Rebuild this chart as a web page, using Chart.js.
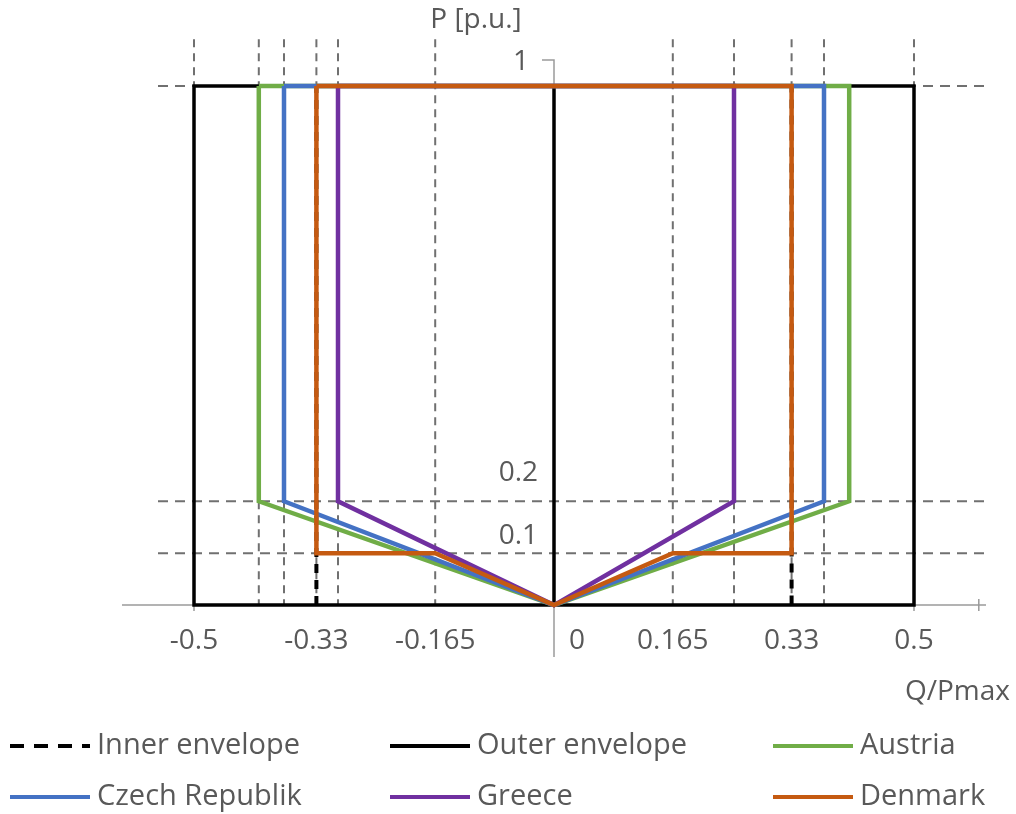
<!DOCTYPE html>
<html>
<head>
<meta charset="utf-8">
<script src="https://cdn.jsdelivr.net/npm/chart.js@4.4.1/dist/chart.umd.min.js"></script>
<style>
html, body { margin: 0; padding: 0; background: #fff; }
</style>
</head>
<body>
<canvas id="pqChart" width="1016" height="814"></canvas>
<script>
// tick labels
const xTicks = [-0.5, -0.33, -0.165, 0, 0.165, 0.33, 0.5];
const xTickLabels = ['-0.5', '-0.33', '-0.165', '0', '0.165', '0.33', '0.5'];
const yTicks = [1, 0.2, 0.1];
const yTickLabels = ['1', '0.2', '0.1'];

// dashed helper lines
const vGrid = [-0.5, -0.41, -0.375, -0.33, -0.3, -0.165, 0.165, 0.25, 0.33, 0.375, 0.5];
const hGrid = [1, 0.2, 0.1];

// curves: Q/Pmax (x) and P (y)
const innerQ = [-0.33, -0.33, 0.33, 0.33];
const innerP = [0, 1, 1, 0];
const outerQ = [0, 0, -0.5, -0.5, 0.5, 0.5, 0];
const outerP = [1, 0, 0, 1, 1, 0, 0];
const austriaQ = [-0.41, -0.41, 0, 0.41, 0.41, -0.41];
const austriaP = [1, 0.2, 0, 0.2, 1, 1];
const czechQ = [-0.375, -0.375, 0, 0.375, 0.375, -0.375];
const czechP = [1, 0.2, 0, 0.2, 1, 1];
const greeceQ = [-0.3, -0.3, 0, 0.25, 0.25, -0.3];
const greeceP = [1, 0.2, 0, 0.2, 1, 1];
const denmarkQ = [-0.33, -0.33, -0.165, 0, 0.165, 0.33, 0.33, -0.33];
const denmarkP = [1, 0.1, 0.1, 0, 0.1, 0.1, 1, 1];

const textColor = '#595959';
const tickFont = "28px 'Open Sans'";
const legendFont = "29px 'Open Sans'";

function pts(qs, ps) {
    return qs.map((q, i) => ({ x: q, y: ps[i] }));
}

// grid lines as one dataset each, broken with null
const vGridPts = [];
vGrid.forEach(q => { vGridPts.push({ x: q, y: 1.09 }, { x: q, y: 0 }, { x: q, y: null }); });
const hGridPts = [];
hGrid.forEach(p => { hGridPts.push({ x: -0.55, y: p }, { x: 0.6, y: p }, { x: null, y: null }); });

function series(label, qs, ps, color, width, order, dash) {
    return {
        label: label,
        data: pts(qs, ps),
        borderColor: color,
        backgroundColor: color,
        borderWidth: width,
        borderDash: dash || [],
        showLine: true,
        pointRadius: 0,
        tension: 0,
        order: order
    };
}

const axesPlugin = {
    id: 'axes',
    beforeDatasetsDraw(chart) {
        const { ctx, scales: { x, y } } = chart;
        const x0 = x.getPixelForValue(0);
        const y0 = y.getPixelForValue(0);
        ctx.save();
        ctx.strokeStyle = '#9a9a9a';
        ctx.lineWidth = 1.5;
        ctx.beginPath();
        ctx.moveTo(x.getPixelForValue(-0.6), y0);
        ctx.lineTo(x.getPixelForValue(0.6), y0);
        ctx.moveTo(x0, y.getPixelForValue(-0.1));
        ctx.lineTo(x0, y.getPixelForValue(1.05));
        ctx.lineTo(x0 - 12, y.getPixelForValue(1.05));
        [-0.5, 0.5].forEach(v => {
            const px = x.getPixelForValue(v);
            ctx.moveTo(px, y0);
            ctx.lineTo(px, y0 + 6);
        });
        const xe = x.getPixelForValue(0.59);
        ctx.moveTo(xe, y0 - 6);
        ctx.lineTo(xe, y0 + 6);
        ctx.stroke();
        ctx.restore();
    }
};

const labelsPlugin = {
    id: 'labels',
    afterDraw(chart) {
        const { ctx, scales: { x, y } } = chart;
        const x0 = x.getPixelForValue(0);
        const y0 = y.getPixelForValue(0);
        ctx.save();
        ctx.fillStyle = textColor;
        ctx.font = tickFont;
        ctx.textBaseline = 'middle';

        // x tick labels
        xTicks.forEach((v, i) => {
            if (v === 0) {
                ctx.textAlign = 'left';
                ctx.fillText(xTickLabels[i], x0 + 15, y0 + 36);
            } else {
                ctx.textAlign = 'center';
                ctx.fillText(xTickLabels[i], x.getPixelForValue(v), y0 + 36);
            }
        });

        // y tick labels (sit above their lines)
        ctx.textAlign = 'right';
        const yShift = { 1: -24, 0.2: -28, 0.1: -17 };
        const xShift = { 1: -25, 0.2: -16, 0.1: -16 };
        yTicks.forEach((v, i) => {
            ctx.fillText(yTickLabels[i], x0 + xShift[v], y.getPixelForValue(v) + yShift[v]);
        });

        // axis titles
        ctx.textAlign = 'center';
        ctx.fillText('P [p.u.]', x0 - 78, 20);
        ctx.textAlign = 'right';
        ctx.fillText('Q/Pmax', 1010, 692);

        // legend: 3 columns x 2 rows
        ctx.font = legendFont;
        const cols = [10, 390, 773];
        const rows = [746, 797];
        const items = chart.data.datasets.filter(d => !d.label.startsWith('_'));
        items.forEach((d, i) => {
            const cx = cols[i % 3];
            const cy = rows[Math.floor(i / 3)];
            ctx.beginPath();
            ctx.strokeStyle = d.borderColor;
            ctx.lineWidth = 4;
            ctx.setLineDash(d.borderDash.length ? [14, 10] : []);
            ctx.moveTo(cx, cy);
            ctx.lineTo(cx + 80, cy);
            ctx.stroke();
            ctx.setLineDash([]);
            ctx.textAlign = 'left';
            ctx.fillStyle = textColor;
            ctx.fillText(d.label, cx + 87, cy);
        });
        ctx.restore();
    }
};

new Chart(document.getElementById('pqChart'), {
    type: 'scatter',
    data: {
        datasets: [
            series('Inner envelope', innerQ, innerP, '#000000', 4, 5, [9, 7]),
            series('Outer envelope', outerQ, outerP, '#000000', 3.5, 6),
            series('Austria', austriaQ, austriaP, '#70AD47', 4.5, 4),
            series('Czech Republik', czechQ, czechP, '#4472C4', 4.5, 3),
            series('Greece', greeceQ, greeceP, '#7030A0', 4.5, 2),
            series('Denmark', denmarkQ, denmarkP, '#C55A11', 4.5, 1),
            {
                label: '_vgrid',
                data: vGridPts,
                borderColor: '#707070',
                borderWidth: 2,
                borderDash: [8, 6],
                showLine: true,
                spanGaps: false,
                pointRadius: 0,
                order: 10
            },
            {
                label: '_hgrid',
                data: hGridPts,
                borderColor: '#707070',
                borderWidth: 2,
                borderDash: [10, 7],
                showLine: true,
                spanGaps: false,
                pointRadius: 0,
                order: 10
            }
        ]
    },
    options: {
        responsive: false,
        animation: false,
        layout: {
            padding: { left: 122, right: 30, top: 34, bottom: 157 }
        },
        scales: {
            x: { type: 'linear', min: -0.6, max: 0.6, display: false },
            y: { type: 'linear', min: -0.1, max: 1.1, display: false }
        },
        plugins: {
            legend: { display: false },
            tooltip: { enabled: false }
        }
    },
    plugins: [axesPlugin, labelsPlugin]
});
</script>
</body>
</html>
